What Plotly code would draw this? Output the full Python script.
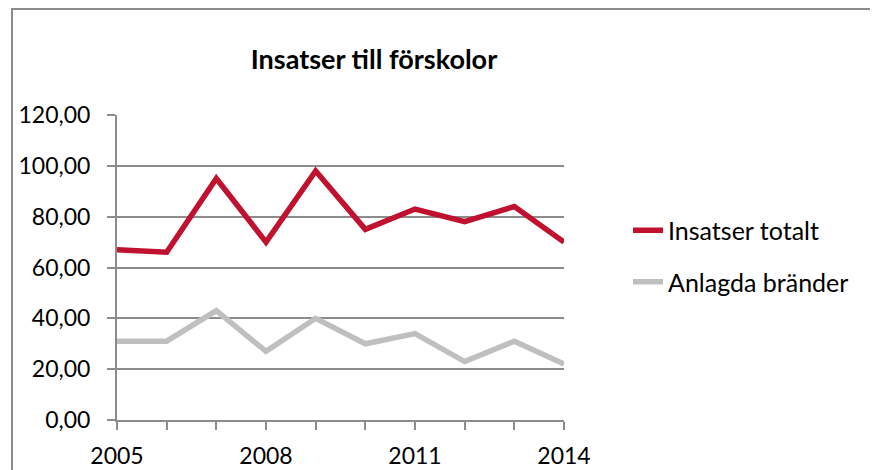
import plotly.graph_objects as go

years = [2005, 2006, 2007, 2008, 2009, 2010, 2011, 2012, 2013, 2014]
insatser_totalt = [67, 66, 95, 70, 98, 75, 83, 78, 84, 70]
anlagda_brander = [31, 31, 43, 27, 40, 30, 34, 23, 31, 22]
series_names = ["Insatser totalt", "Anlagda bränder"]
x_tick_vals = [2005, 2008, 2011, 2014]
y_tick_vals = [0, 20, 40, 60, 80, 100, 120]
title_text = "Insatser till förskolor"

FONT = "Lato, 'Liberation Sans', sans-serif"
AXIS_GRAY = "#8c8c8c"

fig = go.Figure()
fig.add_trace(go.Scatter(x=years, y=insatser_totalt, name=series_names[0], mode="lines",
                         legendgroup="a",
                         line=dict(color="#c0112f", width=5.5)))
fig.add_trace(go.Scatter(x=years, y=anlagda_brander, name=series_names[1], mode="lines",
                         legendgroup="b",
                         line=dict(color="#bfbfbf", width=5.5)))

# page body has an 8px default margin; work in window pixels and shift
OFF = 8
W, H = 878 - OFF, 470 - OFF
L, R, T, B = 117 - OFF, 564 - OFF, 115 - OFF, 420 - OFF
pw, ph = R - L, B - T

def px2paper_x(px):
    return (px - OFF - L) / pw

def px2paper_y(py):
    return (B - (py - OFF)) / ph

fig.update_layout(
    width=W, height=H,
    margin=dict(l=L, r=W - R, t=T, b=H - B, pad=0, autoexpand=False),
    paper_bgcolor="white", plot_bgcolor="white",
    separators=", ",
    font=dict(family=FONT, size=23, color="#000000"),
    title=dict(text="<b>" + title_text + "</b>", x=(374 - OFF) / W, xanchor="center",
               y=1 - (60 - OFF) / H, yanchor="middle", xref="container", yref="container",
               font=dict(family=FONT, size=27, color="#000000")),
    showlegend=True,
    legend=dict(x=px2paper_x(628), xanchor="left", y=px2paper_y(256), yanchor="middle",
                traceorder="grouped", tracegroupgap=16,
                font=dict(family=FONT, size=25), bgcolor="rgba(0,0,0,0)"),
    xaxis=dict(range=[2005, 2014], tickvals=x_tick_vals, ticktext=[str(v) for v in x_tick_vals],
               automargin=False,
               showgrid=False, zeroline=False, showline=True, linecolor=AXIS_GRAY, linewidth=2,
               ticks="outside", ticklen=8, tickwidth=2, tickcolor=AXIS_GRAY,
               minor=dict(dtick=1, tick0=2005, ticks="outside", ticklen=8, tickwidth=2,
                          tickcolor=AXIS_GRAY, showgrid=False),
               ticklabelstandoff=6),
    yaxis=dict(range=[0, 120], tickvals=y_tick_vals, tickformat=".2f",
               automargin=False,
               showgrid=True, gridcolor=AXIS_GRAY, gridwidth=2, zeroline=False,
               showline=True, linecolor=AXIS_GRAY, linewidth=2,
               ticks="outside", ticklen=8, tickwidth=2, tickcolor=AXIS_GRAY,
               ticklabelstandoff=12),
    shapes=[dict(type="rect", xref="paper", yref="paper",
                 x0=px2paper_x(12), x1=px2paper_x(900),
                 y0=px2paper_y(500), y1=px2paper_y(9),
                 line=dict(color=AXIS_GRAY, width=2), fillcolor="rgba(0,0,0,0)", layer="below")],
)

fig.write_html("out.html")
